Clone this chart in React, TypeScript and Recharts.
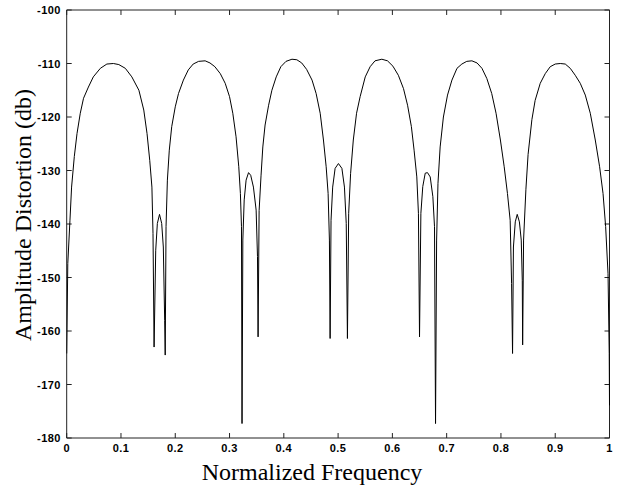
import React from "react";
import { LineChart, Line, XAxis, YAxis, ReferenceLine } from "recharts";

// normalized frequency (0..1) and amplitude distortion in dB
const frequency = [
  0.0, 0.002, 0.006, 0.009, 0.014, 0.019, 0.025, 0.031, 0.04, 0.049, 0.062,
  0.074, 0.086, 0.096, 0.108, 0.12, 0.133, 0.142, 0.148, 0.153, 0.157, 0.159,
  0.161, 0.164, 0.167, 0.171, 0.175, 0.178, 0.1805, 0.1815, 0.183, 0.1855,
  0.189, 0.1935, 0.2, 0.206, 0.215, 0.224, 0.233, 0.243, 0.255, 0.264, 0.273,
  0.283, 0.292, 0.3, 0.306, 0.312, 0.317, 0.32, 0.322, 0.323, 0.3245, 0.327,
  0.3305, 0.335, 0.339, 0.344, 0.349, 0.3515, 0.3526, 0.3545, 0.358, 0.3613,
  0.3655, 0.372, 0.378, 0.386, 0.3945, 0.404, 0.415, 0.424, 0.433, 0.442,
  0.452, 0.4595, 0.467, 0.473, 0.478, 0.4816, 0.484, 0.4853, 0.487, 0.49,
  0.4945, 0.5006, 0.507, 0.5117, 0.515, 0.5172, 0.5195, 0.523, 0.528, 0.534,
  0.5406, 0.55, 0.559, 0.568, 0.5806, 0.591, 0.601, 0.611, 0.6205, 0.628,
  0.635, 0.64, 0.645, 0.648, 0.65, 0.6525, 0.656, 0.6605, 0.6647, 0.6697,
  0.6746, 0.6776, 0.6795, 0.6815, 0.684, 0.688, 0.694, 0.7016, 0.7097, 0.719,
  0.728, 0.737, 0.7465, 0.756, 0.765, 0.774, 0.783, 0.791, 0.799, 0.806,
  0.812, 0.817, 0.8196, 0.8214, 0.823, 0.8264, 0.83, 0.834, 0.8374, 0.8393,
  0.84, 0.8417, 0.846, 0.85, 0.857, 0.863, 0.8724, 0.8816, 0.8908, 0.9,
  0.9093, 0.9185, 0.9277, 0.9369, 0.9461, 0.9554, 0.9646, 0.9738, 0.9818,
  0.9881, 0.9929, 0.9973, 0.9995, 1.0,
];

const distortion = [
  -164.2, -147.4, -139.3, -133.1, -127.4, -123.1, -119.3, -116.5, -114.4,
  -112.5, -110.9, -110.1, -110.0, -110.2, -110.9, -112.5, -115.0, -118.7,
  -123.1, -128.1, -133.1, -141.8, -163.0, -144.9, -139.9, -138.2, -139.9,
  -144.3, -158.0, -164.5, -140.5, -131.8, -126.2, -121.8, -118.1, -115.6,
  -113.1, -111.2, -110.1, -109.6, -109.5, -109.9, -110.6, -111.9, -113.7,
  -116.2, -119.3, -123.7, -129.3, -134.3, -140.5, -177.3, -143.0, -135.5,
  -131.8, -130.4, -130.9, -133.1, -137.4, -146.1, -161.1, -137.5, -131.0,
  -125.6, -121.5, -117.8, -115.0, -112.5, -110.6, -109.6, -109.2, -109.3,
  -109.9, -111.1, -113.1, -115.6, -119.3, -124.3, -129.3, -134.3, -143.0,
  -161.4, -139.3, -133.1, -129.6, -128.7, -129.6, -133.1, -139.9, -161.4,
  -138.0, -130.6, -124.3, -119.3, -116.2, -112.5, -110.6, -109.5, -109.2,
  -109.5, -110.5, -112.2, -114.7, -117.8, -121.8, -126.2, -131.2, -138.0,
  -161.1, -138.0, -133.0, -130.5, -130.4, -131.2, -134.9, -140.5, -177.3,
  -143.0, -132.4, -125.6, -120.0, -115.9, -113.1, -110.9, -110.1, -109.6,
  -109.5, -109.9, -110.9, -112.8, -115.6, -119.3, -124.3, -129.3, -134.3,
  -139.3, -151.1, -164.2, -144.3, -139.6, -138.2, -139.6, -143.0, -150.5,
  -162.6, -143.0, -133.5, -127.0, -120.5, -116.9, -113.7, -111.9, -110.6,
  -110.1, -110.0, -110.1, -110.9, -112.2, -113.7, -115.9, -119.3, -124.3,
  -129.3, -134.3, -140.5, -149.3, -164.2, -173.9,
];

const xTicks = [0, 0.1, 0.2, 0.3, 0.4, 0.5, 0.6, 0.7, 0.8, 0.9, 1];
const yTicks = [-180, -170, -160, -150, -140, -130, -120, -110, -100];

const data = frequency.map((f, i) => ({ f, db: distortion[i] }));

const X_MIN = 0;
const X_MAX = 1;
const Y_MIN = -180;
const Y_MAX = -100;

const AXIS = "#222";
// inward tick length, expressed in axis units (about 5px on this canvas)
const X_TICK_LEN = 0.0092;
const Y_TICK_LEN = 0.93;

const labelStyle = {
  fontFamily: "Arial, 'Liberation Sans', sans-serif",
  fontSize: 11,
  fontWeight: 700,
  letterSpacing: 0.4,
  fill: "#000",
};

const titleFont = "'Times New Roman', 'Liberation Serif', serif";

const BottomLabel = (props: any) => {
  const { x, y, payload } = props;
  return (
    <text x={x} y={y + 14} textAnchor="middle" {...labelStyle}>
      {payload.value}
    </text>
  );
};

const LeftLabel = (props: any) => {
  const { x, y, payload } = props;
  return (
    <text x={x - 6} y={y + 4} textAnchor="end" {...labelStyle}>
      {payload.value}
    </text>
  );
};

export default function App() {
  return (
    <div style={{ position: "absolute", left: 0, top: 0, background: "#fff" }}>
      <LineChart
        width={618}
        height={486}
        data={data}
        margin={{ top: 10, right: 8.5, bottom: 8, left: 6.7 }}
      >
        <XAxis
          dataKey="f"
          type="number"
          domain={[X_MIN, X_MAX]}
          ticks={xTicks}
          height={40}
          tickSize={0}
          tickMargin={0}
          tickLine={false}
          tick={<BottomLabel />}
          stroke={AXIS}
          interval={0}
          label={() => (
            <text
              x={312}
              y={480}
              textAnchor="middle"
              fontFamily={titleFont}
              fontSize={24}
              fill="#000"
            >
              Normalized Frequency
            </text>
          )}
        />
        <YAxis
          type="number"
          domain={[Y_MIN, Y_MAX]}
          ticks={yTicks}
          width={60}
          tickSize={0}
          tickMargin={0}
          tickLine={false}
          tick={<LeftLabel />}
          stroke={AXIS}
          interval={0}
          label={() => (
            <text
              x={31}
              y={215}
              textAnchor="middle"
              transform="rotate(-90 31 215)"
              fontFamily={titleFont}
              fontSize={24}
              fill="#000"
            >
              Amplitude Distortion (db)
            </text>
          )}
        />

        {/* box: top and right edges */}
        <ReferenceLine y={Y_MAX} stroke={AXIS} />
        <ReferenceLine x={X_MAX} stroke={AXIS} />

        {/* inward ticks on all four sides */}
        {xTicks.map((t) => (
          <ReferenceLine
            key={`xb-${t}`}
            segment={[
              { x: t, y: Y_MIN },
              { x: t, y: Y_MIN + Y_TICK_LEN },
            ]}
            stroke={AXIS}
          />
        ))}
        {xTicks.map((t) => (
          <ReferenceLine
            key={`xt-${t}`}
            segment={[
              { x: t, y: Y_MAX },
              { x: t, y: Y_MAX - Y_TICK_LEN },
            ]}
            stroke={AXIS}
          />
        ))}
        {yTicks.map((t) => (
          <ReferenceLine
            key={`yl-${t}`}
            segment={[
              { x: X_MIN, y: t },
              { x: X_MIN + X_TICK_LEN, y: t },
            ]}
            stroke={AXIS}
          />
        ))}
        {yTicks.map((t) => (
          <ReferenceLine
            key={`yr-${t}`}
            segment={[
              { x: X_MAX, y: t },
              { x: X_MAX - X_TICK_LEN, y: t },
            ]}
            stroke={AXIS}
          />
        ))}

        <Line
          type="linear"
          dataKey="db"
          stroke="#000"
          strokeWidth={1}
          dot={false}
          isAnimationActive={false}
        />
      </LineChart>
    </div>
  );
}
